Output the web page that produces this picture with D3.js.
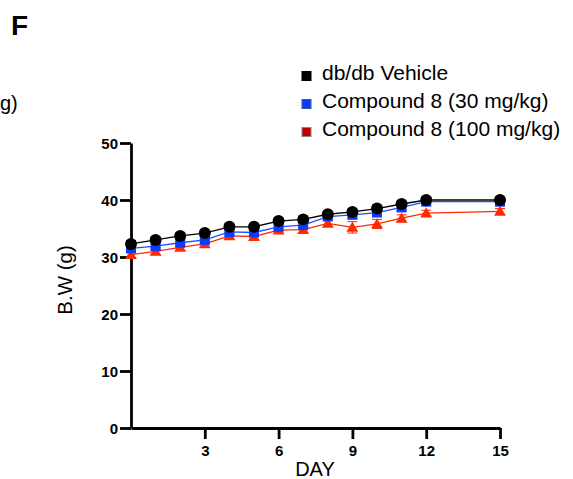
<!DOCTYPE html>
<html><head><meta charset="utf-8">
<script src="https://cdn.jsdelivr.net/npm/d3@7"></script>
<style>body{margin:0;background:#fff}svg{display:block;font-family:"Liberation Sans",Arial,sans-serif}</style>
</head><body>
<script>
const days = [0,1,2,3,4,5,6,7,8,9,10,11,12,15];
const vehicle = [32.3,33.0,33.7,34.2,35.3,35.3,36.3,36.6,37.5,37.9,38.5,39.3,40.0,40.0];
const vehicleErr = [0.6,0.5,0.5,0.5,0.5,0.5,0.5,0.5,0.5,0.5,0.5,0.5,0.5,0.5];
const cmp30 = [31.5,31.9,32.5,33.0,34.4,34.3,35.3,35.6,37.1,37.4,37.8,38.7,39.7,39.7];
const cmp30Err = [0.6,0.6,0.6,0.6,0.7,0.6,0.6,0.6,0.6,0.6,0.6,0.6,0.6,0.6];
const cmp100 = [30.4,31.0,31.7,32.3,33.7,33.6,34.7,34.8,35.9,35.2,35.8,36.8,37.7,38.0];
const cmp100Err = [0.5,0.6,0.5,0.5,0.5,0.5,0.5,0.5,0.5,1.0,0.8,0.6,0.5,0.5];
const xTicks = [3,6,9,12,15];
const yTicks = [0,10,20,30,40,50];
const seriesNames = ["db/db Vehicle","Compound 8 (30 mg/kg)","Compound 8 (100 mg/kg)"];

const W=573,H=479;
const svg=d3.select("body").append("svg").attr("width",W).attr("height",H);
const x=d3.scaleLinear().domain([0,15]).range([131,500]);
const y=d3.scaleLinear().domain([0,50]).range([428,143]);

// panel letter and neighbour text fragment
svg.append("text").attr("x",11).attr("y",35).attr("font-size",28).attr("font-weight","bold").text("F");
svg.append("text").attr("x",0).attr("y",110).attr("font-size",20).text("g)");

// axes
const yAx=svg.append("g").attr("transform","translate(131,0)")
  .call(d3.axisLeft(y).tickValues(yTicks).tickSize(11).tickSizeOuter(0));
const xAx=svg.append("g").attr("transform","translate(0,428)")
  .call(d3.axisBottom(x).tickValues(xTicks).tickSize(11).tickSizeOuter(0));
[yAx,xAx].forEach(g=>{
  g.select(".domain").attr("stroke","#000").attr("stroke-width",2.8);
  g.selectAll(".tick line").attr("stroke","#000").attr("stroke-width",2.8);
  g.selectAll(".tick text").attr("font-size",15).attr("font-weight","bold").attr("fill","#000")
   .attr("font-family","'Liberation Sans',Arial,sans-serif");
});
yAx.selectAll(".tick text").attr("x",-13).attr("dy","0.36em");
xAx.selectAll(".tick text").attr("y",17);

svg.append("text").attr("x",315).attr("y",476).attr("text-anchor","middle").attr("font-size",20).text("DAY");
svg.append("text").attr("transform","translate(72,280) rotate(-90)").attr("text-anchor","middle").attr("font-size",20.5).text("B.W (g)");

const series=[
  {vals:cmp100,err:cmp100Err,color:"#ff2a00",line:"#ff2a00",shape:"tri"},
  {vals:cmp30,err:cmp30Err,color:"#0a3cff",line:"#1f4fff",shape:"sq"},
  {vals:vehicle,err:vehicleErr,color:"#000",line:"#000",shape:"circ"}
];
const line=d3.line().x((d,i)=>x(days[i])).y(d=>y(d));
series.forEach(s=>{
  const g=svg.append("g");
  g.append("path").attr("d",line(s.vals)).attr("fill","none").attr("stroke",s.line).attr("stroke-width",1.3);
  s.vals.forEach((v,i)=>{
    const cx=x(days[i]);
    g.append("line").attr("x1",cx).attr("x2",cx).attr("y1",y(v-s.err[i])).attr("y2",y(v+s.err[i])).attr("stroke",s.color).attr("stroke-width",1);
    [v-s.err[i],v+s.err[i]].forEach(e=>g.append("line").attr("x1",cx-5).attr("x2",cx+5).attr("y1",y(e)).attr("y2",y(e)).attr("stroke",s.color).attr("stroke-width",1));
  });
  s.vals.forEach((v,i)=>{
    const cx=x(days[i]),cy=y(v);
    if(s.shape==="circ") g.append("circle").attr("cx",cx).attr("cy",cy).attr("r",6).attr("fill",s.color);
    else if(s.shape==="sq") g.append("rect").attr("x",cx-5).attr("y",cy-5).attr("width",10).attr("height",10).attr("fill",s.color);
    else g.append("path").attr("d",d3.symbol().type(d3.symbolTriangle).size(60)()).attr("transform",`translate(${cx},${cy+1})`).attr("fill",s.color);
  });
});

// legend
const legFill=["#000","#0a3cff","#c00000"];
const legStroke=["#000","#3a5a9a","#888"];
seriesNames.forEach((n,i)=>{
  const by=79.5+i*28;
  svg.append("rect").attr("x",302).attr("y",by-8).attr("width",9).attr("height",9).attr("fill",legFill[i]).attr("stroke",legStroke[i]).attr("stroke-width",1);
  svg.append("text").attr("x",322).attr("y",by).attr("font-size",21).text(n);
});
</script>
</body></html>
